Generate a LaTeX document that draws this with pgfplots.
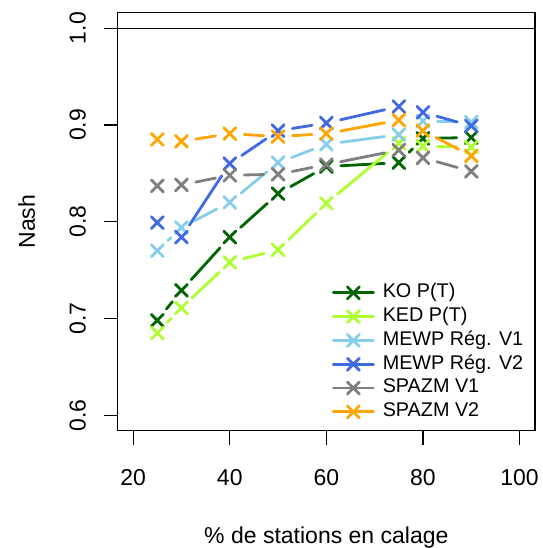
\documentclass[border=0pt]{standalone}
\usepackage{fontspec}
\setmainfont{Liberation Sans}
\usepackage{pgfplots}
\usepackage{pgfplotstable}
\pgfplotsset{compat=1.18}
\definecolor{cKO}{HTML}{006400}
\definecolor{cKED}{HTML}{ADFF2F}
\definecolor{cMa}{HTML}{87CEEB}
\definecolor{cMb}{HTML}{4169E1}
\definecolor{cSa}{HTML}{7F7F7F}
\definecolor{cSb}{HTML}{FFA500}
\pgfplotstableread{
x y
25 0.698
30 0.729
40 0.784
50 0.829
60 0.857
75 0.861
80 0.886
90 0.887
}\tKO
\pgfplotstableread{
x y
25 0.685
30 0.711
40 0.758
50 0.771
60 0.819
75 0.881
80 0.878
90 0.877
}\tKED
\pgfplotstableread{
x y
25 0.770
30 0.794
40 0.820
50 0.861
60 0.880
75 0.890
80 0.904
90 0.903
}\tMa
\pgfplotstableread{
x y
25 0.799
30 0.784
40 0.860
50 0.894
60 0.902
75 0.919
80 0.913
90 0.899
}\tMb
\pgfplotstableread{
x y
25 0.837
30 0.838
40 0.848
50 0.849
60 0.859
75 0.874
80 0.866
90 0.852
}\tSa
\pgfplotstableread{
x y
25 0.885
30 0.883
40 0.891
50 0.888
60 0.891
75 0.905
80 0.894
90 0.868
}\tSb
\newcommand\seg[3]{\addplot[#1, seg, forget plot, restrict x to domain=#3] table {#2};}
\newcommand\pts[2]{\addplot[#1, only marks, forget plot] table {#2};}
\begin{document}
\begin{tikzpicture}[x=1pt,y=1pt]
\useasboundingbox (0,0) rectangle (542,548);
\begin{axis}[
  at={(117.7pt,117.3pt)}, anchor=south west,
  scale only axis, width=417.3pt, height=418pt,
  xmin=16.8, xmax=103.2, ymin=0.584, ymax=1.016,
  axis line style={black, line width=1.2pt},
  tick align=outside, xtick pos=bottom, ytick pos=left,
  major tick length=14pt,
  tick style={black, line width=1.2pt},
  xtick={20,40,60,80,100},
  ytick={0.6,0.7,0.8,0.9,1.0},
  yticklabels={0.6,0.7,0.8,0.9,1.0},
  /pgf/number format/assume math mode=true,
  xticklabel style={font=\fontsize{23}{27}\selectfont, anchor=base, yshift=-40.5pt},
  yticklabel style={font=\fontsize{23}{27}\selectfont, xshift=-18pt, rotate=90, anchor=base},
  xlabel={\% de stations en calage},
  ylabel={Nash},
  every axis x label/.style={at={(axis description cs:0.5,-0.256)}, anchor=center, font=\fontsize{23}{27}\selectfont},
  every axis y label/.style={at={(axis description cs:-0.218,0.5)}, anchor=center, rotate=90, font=\fontsize{23}{27}\selectfont},
  seg/.style={line width=2.8pt, line cap=round, mark=none, shorten <=14.5pt, shorten >=14.5pt},
  every axis plot/.append style={line width=2.8pt, line cap=round, mark=x, mark size=8.5pt, mark options={solid, line width=2.8pt}},
  legend style={draw=none, fill=none, at={(0.513,0.352)}, anchor=north west,
    font=\fontsize{19.8}{22}\selectfont, inner sep=0pt, row sep=5.6pt, column sep=8pt,
    nodes={inner sep=0pt, text height=14pt, text depth=4.2pt}},
  legend cell align=left,
  legend image code/.code={\draw[mark repeat=2, mark phase=2, #1] plot coordinates {(0pt,0pt) (20pt,0pt) (40pt,0pt)};},
]
\addplot[black, line width=1.2pt, mark=none, forget plot] coordinates {(16.8,1.0) (103.2,1.0)};
% KO P(T)
\seg{cKO}{\tKO}{25:30}\seg{cKO}{\tKO}{30:40}\seg{cKO}{\tKO}{40:50}\seg{cKO}{\tKO}{50:60}
\seg{cKO}{\tKO}{60:75}\seg{cKO}{\tKO}{75:80}\seg{cKO}{\tKO}{80:90}
\pts{cKO}{\tKO}
% KED P(T)
\seg{cKED}{\tKED}{25:30}\seg{cKED}{\tKED}{30:40}\seg{cKED}{\tKED}{40:50}\seg{cKED}{\tKED}{50:60}
\seg{cKED}{\tKED}{60:75}\seg{cKED}{\tKED}{80:90}
\pts{cKED}{\tKED}
% MEWP V1
\seg{cMa}{\tMa}{25:30}\seg{cMa}{\tMa}{30:40}\seg{cMa}{\tMa}{40:50}\seg{cMa}{\tMa}{50:60}
\seg{cMa}{\tMa}{60:75}\seg{cMa}{\tMa}{80:90}
\pts{cMa}{\tMa}
% MEWP V2
\seg{cMb}{\tMb}{30:40}\seg{cMb}{\tMb}{40:50}\seg{cMb}{\tMb}{50:60}
\seg{cMb}{\tMb}{60:75}\seg{cMb}{\tMb}{80:90}
\pts{cMb}{\tMb}
% SPAZM V1
\seg{cSa}{\tSa}{30:40}\seg{cSa}{\tSa}{40:50}\seg{cSa}{\tSa}{50:60}
\seg{cSa}{\tSa}{60:75}\seg{cSa}{\tSa}{80:90}
\pts{cSa}{\tSa}
% SPAZM V2
\seg{cSb}{\tSb}{30:40}\seg{cSb}{\tSb}{40:50}\seg{cSb}{\tSb}{50:60}
\seg{cSb}{\tSb}{60:75}\seg{cSb}{\tSb}{80:90}
\pts{cSb}{\tSb}
% legend
\addlegendimage{cKO, line width=2.8pt, mark=x, mark size=8.5pt, mark options={solid, line width=2.8pt}}
\addlegendentry{KO P(T)}
\addlegendimage{cKED, line width=2.8pt, mark=x, mark size=8.5pt, mark options={solid, line width=2.8pt}}
\addlegendentry{KED P(T)}
\addlegendimage{cMa, line width=2.8pt, mark=x, mark size=8.5pt, mark options={solid, line width=2.8pt}}
\addlegendentry{MEWP Rég. V1}
\addlegendimage{cMb, line width=2.8pt, mark=x, mark size=8.5pt, mark options={solid, line width=2.8pt}}
\addlegendentry{MEWP Rég. V2}
\addlegendimage{cSa, line width=2.8pt, mark=x, mark size=8.5pt, mark options={solid, line width=2.8pt}}
\addlegendentry{SPAZM V1}
\addlegendimage{cSb, line width=2.8pt, mark=x, mark size=8.5pt, mark options={solid, line width=2.8pt}}
\addlegendentry{SPAZM V2}
\end{axis}
\end{tikzpicture}
\end{document}
